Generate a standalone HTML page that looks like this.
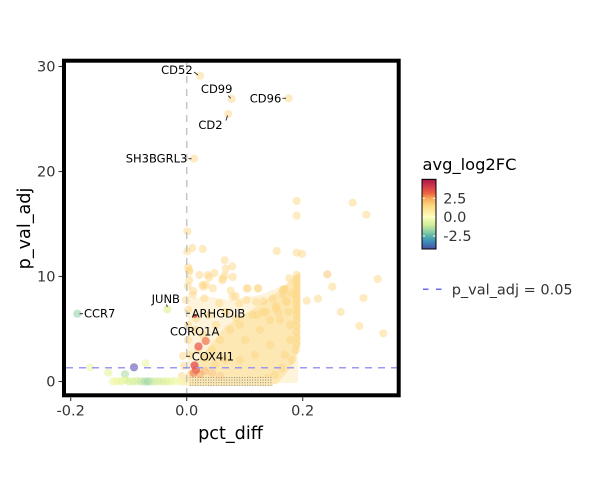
<!DOCTYPE html>
<html><head><meta charset="utf-8"><style>
html,body{margin:0;padding:0;background:#fff;}
svg{display:block;}
text{font-family:"DejaVu Sans","Liberation Sans",sans-serif;}
</style></head><body>
<svg width="600" height="500" viewBox="0 0 600 500" xmlns="http://www.w3.org/2000/svg">
<defs>
<clipPath id="pc"><rect x="66" y="62.7" width="330.7" height="330.8"/></clipPath>
<pattern id="st" width="2.6" height="2.6" patternUnits="userSpaceOnUse"><rect width="1" height="1" fill="#444"/></pattern>
<linearGradient id="cb" x1="0" y1="0" x2="0" y2="1">
<stop offset="0" stop-color="#a8164a"/>
<stop offset="0.12" stop-color="#d8404a"/>
<stop offset="0.21" stop-color="#f06a40"/>
<stop offset="0.27" stop-color="#f9a558"/>
<stop offset="0.38" stop-color="#fdd880"/>
<stop offset="0.54" stop-color="#fdfdbb"/>
<stop offset="0.65" stop-color="#d4ee9c"/>
<stop offset="0.75" stop-color="#8ccfa4"/>
<stop offset="0.81" stop-color="#5cb5a8"/>
<stop offset="0.9" stop-color="#3a8abb"/>
<stop offset="1" stop-color="#4b4fa0"/>
</linearGradient>
</defs>
<rect width="600" height="500" fill="#fff"/>
<g clip-path="url(#pc)">
<polygon points="188,300 205,296 230,300 260,295 285,285 298,272 298,383 188,383" fill="#fef4dc"/>
<polygon points="196,383 196,362 212,343 226,326 253,309 276,293 293,279 300,272 300,346 292,366 277,384" fill="#fde7b2"/>
<g fill="#fdd886" fill-opacity="0.5">
<circle cx="200" cy="75.7" r="4.1"/><circle cx="231.7" cy="99" r="4.1"/><circle cx="288.7" cy="98.3" r="4.1"/><circle cx="228.3" cy="114" r="4.1"/><circle cx="194" cy="158.7" r="4.1"/>
<circle cx="187.3" cy="231.3" r="4.1"/><circle cx="187.3" cy="251.3" r="4.1"/><circle cx="192.3" cy="248" r="4.1"/><circle cx="202.7" cy="249" r="4.1"/><circle cx="296.7" cy="201" r="4.1"/><circle cx="296.7" cy="215.7" r="4.1"/><circle cx="352.7" cy="202.7" r="4.1"/><circle cx="366.3" cy="214.7" r="4.1"/><circle cx="276.7" cy="251" r="4.1"/><circle cx="296.7" cy="252.7" r="4.1"/><circle cx="302" cy="254" r="4.1"/>
<circle cx="224.7" cy="260.3" r="4.1"/><circle cx="188.3" cy="267.3" r="4.1"/><circle cx="189" cy="270" r="4.1"/><circle cx="225.7" cy="268.7" r="4.1"/><circle cx="232.3" cy="266.3" r="4.1"/><circle cx="214.3" cy="273" r="4.1"/><circle cx="209.3" cy="277.3" r="4.1"/><circle cx="224.7" cy="275.7" r="4.1"/><circle cx="232.7" cy="277" r="4.1"/><circle cx="222.3" cy="280.3" r="4.1"/><circle cx="189.3" cy="280" r="4.1"/><circle cx="205.7" cy="284.7" r="4.1"/><circle cx="203.3" cy="286.7" r="4.1"/><circle cx="187.7" cy="286" r="4.1"/><circle cx="246.7" cy="288.5" r="4.1"/><circle cx="258.3" cy="288.3" r="4.1"/><circle cx="230.7" cy="290.7" r="4.1"/><circle cx="193.3" cy="291" r="4.1"/><circle cx="284.7" cy="289" r="4.1"/><circle cx="235.7" cy="296" r="4.1"/><circle cx="283.3" cy="295" r="4.1"/><circle cx="291.7" cy="293.3" r="4.1"/>
<circle cx="377.7" cy="279" r="4.1"/><circle cx="332.3" cy="286.7" r="4.1"/><circle cx="363.5" cy="298" r="4.1"/><circle cx="318" cy="298.7" r="4.1"/><circle cx="306.7" cy="300.7" r="4.1"/><circle cx="340.7" cy="312" r="4.1"/><circle cx="359.3" cy="326" r="4.1"/><circle cx="383.3" cy="333.3" r="4.1"/>
<circle cx="263.3" cy="301" r="4.1"/><circle cx="286.7" cy="301.7" r="4.1"/><circle cx="276" cy="306" r="4.1"/><circle cx="246.7" cy="300" r="4.1"/><circle cx="256.7" cy="315" r="4.1"/><circle cx="262.7" cy="312.3" r="4.1"/><circle cx="278.3" cy="312.3" r="4.1"/><circle cx="288.3" cy="311.7" r="4.1"/><circle cx="284" cy="289.3" r="4.1"/>
<circle cx="189.3" cy="271.7" r="4.1"/><circle cx="199.3" cy="275" r="4.1"/><circle cx="202.7" cy="285" r="4.1"/><circle cx="207.7" cy="275" r="4.1"/><circle cx="192.7" cy="295" r="4.1"/><circle cx="204.3" cy="298.3" r="4.1"/><circle cx="212.7" cy="288.3" r="4.1"/><circle cx="222.7" cy="278.3" r="4.1"/><circle cx="232.7" cy="296.7" r="4.1"/><circle cx="247.7" cy="288.3" r="4.1"/><circle cx="257.7" cy="288.3" r="4.1"/><circle cx="239.3" cy="303.3" r="4.1"/><circle cx="256" cy="301.7" r="4.1"/><circle cx="272.7" cy="298.3" r="4.1"/><circle cx="282.7" cy="290" r="4.1"/><circle cx="289.3" cy="278.3" r="4.1"/><circle cx="219.3" cy="303.3" r="4.1"/><circle cx="226" cy="311.7" r="4.1"/><circle cx="209.3" cy="315" r="4.1"/><circle cx="196" cy="318.3" r="4.1"/><circle cx="216" cy="325" r="4.1"/><circle cx="236" cy="318.3" r="4.1"/><circle cx="252.7" cy="315" r="4.1"/><circle cx="266" cy="311.7" r="4.1"/><circle cx="276" cy="308.3" r="4.1"/><circle cx="286" cy="301.7" r="4.1"/>
<circle cx="195" cy="330" r="4.1"/><circle cx="203" cy="335" r="4.1"/><circle cx="212" cy="350" r="4.1"/><circle cx="220" cy="340" r="4.1"/><circle cx="230" cy="330" r="4.1"/><circle cx="240" cy="325" r="4.1"/><circle cx="245" cy="340" r="4.1"/><circle cx="260" cy="330" r="4.1"/><circle cx="270" cy="320" r="4.1"/><circle cx="280" cy="320" r="4.1"/><circle cx="290" cy="325" r="4.1"/><circle cx="290" cy="340" r="4.1"/><circle cx="285" cy="355" r="4.1"/><circle cx="270" cy="345" r="4.1"/><circle cx="255" cy="355" r="4.1"/><circle cx="240" cy="360" r="4.1"/><circle cx="225" cy="360" r="4.1"/><circle cx="215" cy="365" r="4.1"/><circle cx="205" cy="358" r="4.1"/><circle cx="198" cy="350" r="4.1"/><circle cx="188" cy="310" r="4.1"/><circle cx="188" cy="325" r="4.1"/><circle cx="188" cy="340" r="4.1"/><circle cx="190" cy="355" r="4.1"/><circle cx="190" cy="375" r="4.1"/><circle cx="200" cy="380" r="4.1"/><circle cx="210" cy="382" r="4.1"/><circle cx="220" cy="381" r="4.1"/><circle cx="230" cy="381" r="4.1"/><circle cx="240" cy="381" r="4.1"/><circle cx="250" cy="380" r="4.1"/><circle cx="260" cy="380" r="4.1"/><circle cx="268" cy="378" r="4.1"/><circle cx="275" cy="375" r="4.1"/><circle cx="282" cy="368" r="4.1"/><circle cx="292" cy="360" r="4.1"/><circle cx="296" cy="350" r="4.1"/>
<circle cx="296.7" cy="275" r="4.1"/><circle cx="296.7" cy="279" r="4.1"/><circle cx="296.7" cy="283" r="4.1"/><circle cx="296.7" cy="287" r="4.1"/><circle cx="296.7" cy="291" r="4.1"/><circle cx="296.7" cy="295" r="4.1"/><circle cx="296.7" cy="299" r="4.1"/><circle cx="296.7" cy="303" r="4.1"/><circle cx="296.7" cy="307" r="4.1"/><circle cx="296.7" cy="311" r="4.1"/><circle cx="296.7" cy="315" r="4.1"/><circle cx="296.7" cy="320" r="4.1"/><circle cx="296.7" cy="326" r="4.1"/><circle cx="296.7" cy="332" r="4.1"/><circle cx="296.7" cy="338" r="4.1"/><circle cx="296.7" cy="344" r="4.1"/>
<circle cx="183" cy="356" r="4.1"/><circle cx="184" cy="366" r="4.1"/><circle cx="182" cy="376" r="4.1"/><circle cx="186" cy="300" r="4.1"/>
</g>
<circle cx="327.3" cy="274.3" r="4.1" fill="#f9b860" fill-opacity="0.45"/>
<rect x="189" y="377" width="84" height="9" fill="#fce9b8"/>
<rect x="189" y="377" width="84" height="9" fill="url(#st)" opacity="0.6"/>
<circle cx="205.7" cy="341" r="4.1" fill="#f47a50" fill-opacity="0.75"/>
<circle cx="198.5" cy="346.5" r="4.1" fill="#e8504a" fill-opacity="0.7"/>
<circle cx="200" cy="374" r="4.1" fill="#f59a60" fill-opacity="0.45"/>
<circle cx="205" cy="371" r="4.1" fill="#f8b070" fill-opacity="0.45"/>
<circle cx="212" cy="373" r="4.1" fill="#f8b878" fill-opacity="0.4"/>
<circle cx="220" cy="376" r="4.1" fill="#f9c080" fill-opacity="0.35"/>
<circle cx="194.5" cy="365.5" r="4.1" fill="#e04848" fill-opacity="0.75"/>
<circle cx="196" cy="370" r="4.1" fill="#e85a4a" fill-opacity="0.7"/>
<circle cx="193.5" cy="373" r="4.1" fill="#f07050" fill-opacity="0.6"/>
<circle cx="195" cy="316" r="2" fill="#e04040" fill-opacity="0.8"/>
<circle cx="77.3" cy="313.7" r="4.1" fill="#8ccfa4" fill-opacity="0.55"/>
<circle cx="167.3" cy="309.3" r="4.1" fill="#dcf090" fill-opacity="0.6"/>
<circle cx="134" cy="367.3" r="4.1" fill="#5e4fa2" fill-opacity="0.6"/>
<circle cx="125" cy="374.3" r="4.1" fill="#abdda4" fill-opacity="0.6"/>
<circle cx="108.3" cy="372.7" r="4.1" fill="#e6f598" fill-opacity="0.6"/>
<circle cx="90" cy="367.3" r="4.1" fill="#e6f598" fill-opacity="0.5"/>
<circle cx="145.7" cy="363.3" r="4.1" fill="#e6f598" fill-opacity="0.5"/>
<g fill-opacity="0.6">
<circle cx="113" cy="381.5" r="4.1" fill="#eef7a0"/><circle cx="117" cy="381" r="4.1" fill="#eef7a0"/><circle cx="121" cy="381.5" r="4.1" fill="#e6f598"/><circle cx="125" cy="380" r="4.1" fill="#e6f598"/><circle cx="129" cy="381.5" r="4.1" fill="#d6ee9a"/><circle cx="133" cy="381.5" r="4.1" fill="#d6ee9a"/><circle cx="137" cy="381" r="4.1" fill="#d6ee9a"/><circle cx="141" cy="381.5" r="4.1" fill="#c4e6a0"/><circle cx="145" cy="381.5" r="4.1" fill="#abdda4"/><circle cx="148" cy="381.5" r="4.1" fill="#99d5a4"/><circle cx="151" cy="381.5" r="4.1" fill="#b8e2a2"/><circle cx="155" cy="381.5" r="4.1" fill="#d0ec9c"/><circle cx="159" cy="381.5" r="4.1" fill="#d6ee9a"/><circle cx="163" cy="381.5" r="4.1" fill="#d6ee9a"/><circle cx="167" cy="381.5" r="4.1" fill="#e0f298"/><circle cx="171" cy="381.5" r="4.1" fill="#e6f598"/><circle cx="175" cy="381" r="4.1" fill="#eef7a8"/><circle cx="179" cy="381.5" r="4.1" fill="#f4f8b0"/><circle cx="183" cy="381.5" r="4.1" fill="#f8f0a8"/><circle cx="187" cy="381.5" r="4.1" fill="#fbe8a0"/>
</g>
</g>
<line x1="186.7" y1="63" x2="186.7" y2="393" stroke="#c4c4c4" stroke-width="1.5" stroke-dasharray="7,6"/>
<line x1="66" y1="367.7" x2="396.7" y2="367.7" stroke="#9a9af2" stroke-width="1.5" stroke-dasharray="7,6"/>
<g stroke="#333" stroke-width="1">
<line x1="194" y1="72" x2="198" y2="75"/>
<line x1="228.3" y1="95.7" x2="230.7" y2="98.3"/>
<line x1="282.5" y1="98.3" x2="286" y2="98.3"/>
<line x1="226" y1="120.5" x2="227.5" y2="115.5"/>
<line x1="188.5" y1="158.7" x2="191.5" y2="158.7"/>
<line x1="79.5" y1="313.7" x2="83" y2="313.7"/>
<line x1="166.5" y1="304.5" x2="167.3" y2="307"/>
<line x1="186.5" y1="313.3" x2="190" y2="313.3"/>
<line x1="186" y1="322" x2="188" y2="325"/>
<line x1="186" y1="356.3" x2="190" y2="356.3"/>
</g>
<g font-size="11.5" fill="#000">
<text x="192.7" y="74" text-anchor="end">CD52</text>
<text x="216.7" y="93" text-anchor="middle">CD99</text>
<text x="281.3" y="102.3" text-anchor="end">CD96</text>
<text x="210.5" y="129" text-anchor="middle">CD2</text>
<text x="187.3" y="162.7" text-anchor="end">SH3BGRL3</text>
<text x="84" y="317.7">CCR7</text>
<text x="165.8" y="303" text-anchor="middle">JUNB</text>
<text x="191.7" y="317.3">ARHGDIB</text>
<text x="194.7" y="335.7" text-anchor="middle">CORO1A</text>
<text x="191.7" y="360.3">COX4I1</text>
</g>
<rect x="64" y="60.7" width="334.7" height="334.6" fill="none" stroke="#000" stroke-width="4"/>
<g stroke="#333" stroke-width="1.1">
<line x1="58.5" y1="381.5" x2="62" y2="381.5"/><line x1="58.5" y1="276.5" x2="62" y2="276.5"/><line x1="58.5" y1="171.5" x2="62" y2="171.5"/><line x1="58.5" y1="66.5" x2="62" y2="66.5"/>
<line x1="70.7" y1="397.5" x2="70.7" y2="401"/><line x1="186.7" y1="397.5" x2="186.7" y2="401"/><line x1="302.7" y1="397.5" x2="302.7" y2="401"/>
</g>
<g font-size="14.5" fill="#333">
<text x="55.5" y="386.7" text-anchor="end">0</text>
<text x="55.5" y="281.7" text-anchor="end">10</text>
<text x="55.5" y="176.7" text-anchor="end">20</text>
<text x="55.5" y="71.7" text-anchor="end">30</text>
<text x="70.7" y="415.7" text-anchor="middle">-0.2</text>
<text x="186.7" y="415.7" text-anchor="middle">0.0</text>
<text x="302.7" y="415.7" text-anchor="middle">0.2</text>
</g>
<text x="230.5" y="439" font-size="17.6" text-anchor="middle" fill="#000">pct_diff</text>
<text transform="translate(30,228.5) rotate(-90)" font-size="17.6" text-anchor="middle" fill="#000">p_val_adj</text>
<text x="422.5" y="170" font-size="16.3" fill="#000">avg_log2FC</text>
<rect x="422" y="179.3" width="14" height="69.7" fill="url(#cb)" stroke="#000" stroke-width="1"/>
<g stroke="#fff" stroke-width="1">
<line x1="422.5" y1="198.3" x2="425" y2="198.3"/><line x1="433" y1="198.3" x2="435.5" y2="198.3"/>
<line x1="422.5" y1="216.7" x2="425" y2="216.7"/><line x1="433" y1="216.7" x2="435.5" y2="216.7"/>
<line x1="422.5" y1="236" x2="425" y2="236"/><line x1="433" y1="236" x2="435.5" y2="236"/>
</g>
<g font-size="14.5" fill="#333">
<text x="443.3" y="203.5">2.5</text>
<text x="443.3" y="221.9">0.0</text>
<text x="443.3" y="241.2">-2.5</text>
</g>
<line x1="423" y1="289.3" x2="442" y2="289.3" stroke="#6b6bf0" stroke-width="1.5" stroke-dasharray="5.5,7.5"/>
<text x="451.7" y="294.5" font-size="14.5" fill="#333">p_val_adj = 0.05</text>
</svg>
</body></html>
